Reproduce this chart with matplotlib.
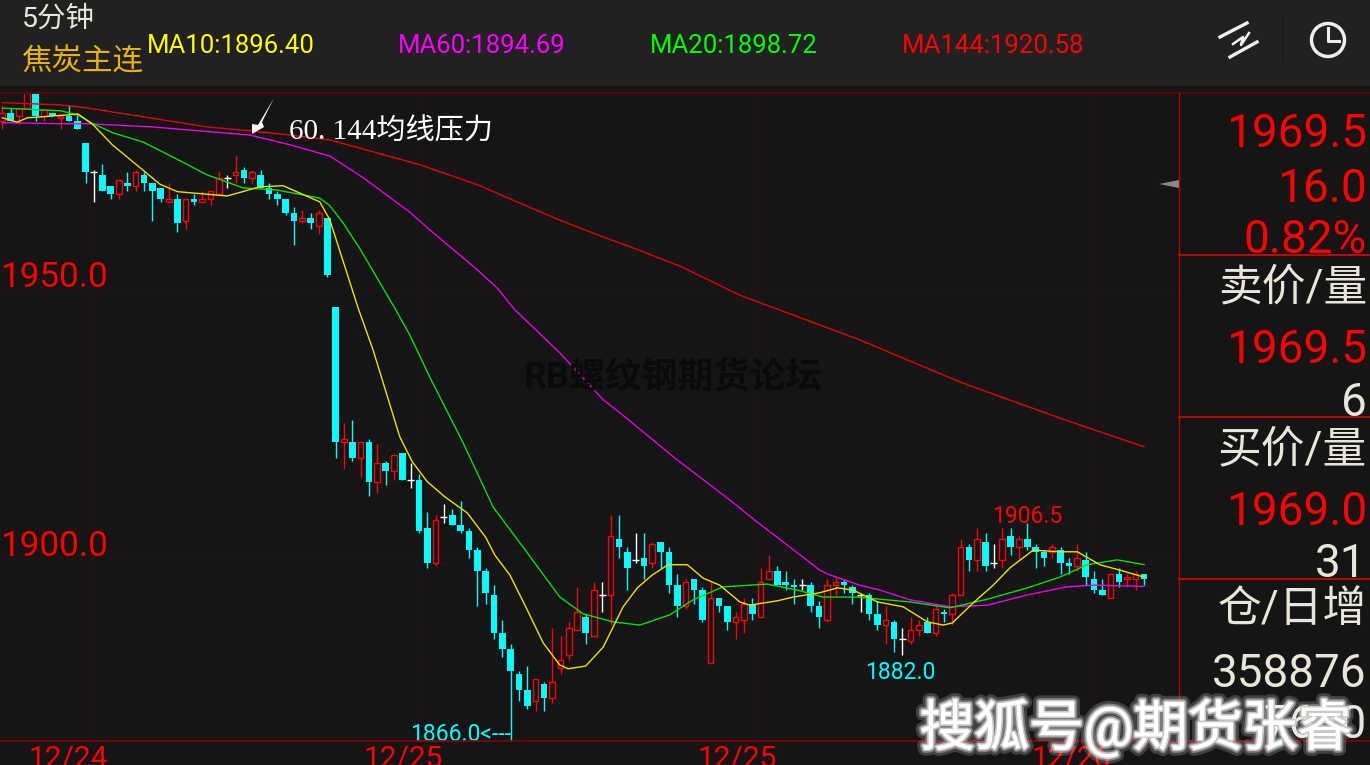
import matplotlib
matplotlib.use('Agg')
import matplotlib.pyplot as plt
import matplotlib.patheffects as pe
from matplotlib.patches import Circle, Polygon, Rectangle

plt.rcParams['font.family'] = ['Roboto', 'Noto Sans CJK SC', 'DejaVu Sans']

# candles (price ticks are 0.5)
opens = [1981, 1982.5, 1982, 1983.5, 1986.5, 1982, 1982.5, 1981.5, 1982, 1981,
         1977, 1971.5, 1971, 1969, 1967.5, 1969.5, 1969, 1971, 1969.5, 1968.5,
         1966, 1966.5, 1962.5, 1966.5, 1966, 1966.5, 1967.5, 1970.5, 1971, 1972,
         1970.5, 1971, 1968.5, 1967.5, 1966.5, 1964, 1962.5, 1963, 1961.5, 1963,
         1946.5, 1921.5, 1921.5, 1918.5, 1921.5, 1914, 1917.5, 1916, 1919.5, 1914.5,
         1914.5, 1905.5, 1899, 1907.5, 1908, 1906, 1905, 1901.5, 1897.5, 1893,
         1886, 1883, 1878.5, 1875.5, 1873.5, 1876.5, 1874, 1879.5, 1882, 1886.5,
         1889, 1885.5, 1893, 1893, 1903.5, 1901, 1899.5, 1900, 1899, 1903,
         1901, 1895, 1891, 1896, 1894, 1880.5, 1892.5, 1891, 1888, 1888.5,
         1891.5, 1889, 1896, 1897.5, 1895.5, 1895, 1895, 1895, 1891, 1888.5,
         1895, 1895.5, 1894.5, 1893, 1893, 1889.5, 1887.5, 1888, 1885, 1884.5,
         1886.5, 1888, 1886, 1890, 1889.5, 1893, 1902, 1899.5, 1903, 1899,
         1899.5, 1904, 1902, 1903.5, 1902, 1901, 1901, 1901.5, 1899, 1898.5,
         1899.5, 1896, 1894, 1892.5, 1897, 1896, 1896, 1897]
highs = [1984, 1983.5, 1983.5, 1986.5, 1986.5, 1983, 1982.5, 1982, 1984, 1982.5,
         1977, 1972, 1973, 1969, 1970, 1971.5, 1972, 1971.5, 1969.5, 1968.5,
         1969.5, 1967.5, 1966.5, 1967.5, 1968, 1968, 1971.5, 1971, 1974.5, 1972.5,
         1972, 1972, 1969.5, 1968, 1966.5, 1965, 1964.5, 1964, 1964.5, 1963,
         1946.5, 1925, 1925.5, 1921.5, 1922, 1921, 1918, 1919, 1919.5, 1917.5,
         1915.5, 1908.5, 1908, 1910, 1909, 1910.5, 1905.5, 1902, 1898, 1895,
         1888.5, 1884, 1879, 1880, 1877.5, 1877, 1887, 1885.5, 1888, 1894.5,
         1889.5, 1895.5, 1895.5, 1908, 1908, 1902, 1904.5, 1904.5, 1903, 1903,
         1902, 1897, 1896, 1896, 1894.5, 1895.5, 1892.5, 1891, 1890, 1892.5,
         1892.5, 1898, 1900.5, 1898.5, 1897.5, 1896, 1896, 1895.5, 1892, 1896,
         1896.5, 1896, 1895, 1893.5, 1893.5, 1892, 1891, 1888.5, 1887, 1889,
         1888.5, 1889, 1891.5, 1890.5, 1893.5, 1903.5, 1902.5, 1905.5, 1904.5, 1902.5,
         1905.5, 1905.5, 1904, 1906.5, 1902.5, 1901.5, 1902.5, 1902, 1900, 1902.5,
         1901, 1897.5, 1896, 1897, 1898, 1897, 1897.5, 1897]
lows = [1979.5, 1981, 1980.5, 1983.5, 1981, 1981, 1982, 1979.5, 1981, 1979.5,
        1969.5, 1966, 1968, 1966.5, 1966.5, 1968, 1968, 1968, 1962.5, 1966,
        1966, 1960.5, 1961, 1965.5, 1966, 1965.5, 1967.5, 1968.5, 1969.5, 1969.5,
        1969.5, 1968.5, 1966.5, 1965.5, 1963.5, 1958, 1962, 1961, 1960, 1952,
        1918.5, 1916.5, 1918, 1915, 1911.5, 1912, 1913.5, 1914.5, 1914.5, 1913,
        1904.5, 1898, 1898.5, 1906.5, 1906, 1904.5, 1900, 1891, 1891.5, 1885,
        1881.5, 1866, 1873.5, 1872, 1871.5, 1871.5, 1873, 1878.5, 1881, 1886.5,
        1884, 1885.5, 1890, 1887.5, 1900, 1894, 1899, 1896, 1898, 1898,
        1893.5, 1889, 1890.5, 1891.5, 1888, 1880.5, 1890, 1886.5, 1885, 1886,
        1888.5, 1889, 1896, 1895, 1894, 1891.5, 1894, 1890, 1887, 1888,
        1893, 1893.5, 1891.5, 1890, 1888.5, 1886.5, 1884, 1882.5, 1882, 1884,
        1885.5, 1886, 1885.5, 1888, 1887.5, 1893, 1897.5, 1897.5, 1897.5, 1898,
        1898, 1900.5, 1899.5, 1901.5, 1898, 1898.5, 1900, 1897, 1897, 1897.5,
        1895, 1893.5, 1893, 1892.5, 1894.5, 1894.5, 1894, 1895]
closes = [1982.5, 1981, 1983.5, 1986.5, 1982, 1983, 1982, 1982, 1981, 1979.5,
          1971.5, 1971.5, 1968, 1967.5, 1970, 1969, 1971.5, 1969.5, 1968, 1966.5,
          1966.5, 1962, 1966.5, 1966, 1966.5, 1968, 1970.5, 1970.5, 1971.5, 1970.5,
          1971.5, 1968.5, 1967.5, 1966.5, 1964, 1962.5, 1963, 1962, 1964, 1952.5,
          1921.5, 1922, 1918.5, 1921.5, 1914, 1917.5, 1916, 1919, 1914.5, 1914.5,
          1905, 1899, 1907, 1907.5, 1906, 1905, 1901.5, 1897.5, 1893.5, 1886,
          1883, 1879, 1875.5, 1872.5, 1877.5, 1874, 1877, 1881, 1887, 1890,
          1886, 1894, 1893, 1904, 1902, 1898, 1899.5, 1898.5, 1902.5, 1901,
          1895, 1891, 1895.5, 1894, 1888.5, 1892.5, 1891, 1888, 1889, 1891.5,
          1889.5, 1895.5, 1897.5, 1895, 1895, 1894.5, 1895, 1891, 1889, 1895,
          1895.5, 1895, 1893.5, 1893, 1889.5, 1887.5, 1888.5, 1885, 1885, 1886.5,
          1887.5, 1886, 1890.5, 1889.5, 1893, 1902, 1899.5, 1903.5, 1898.5, 1899,
          1903.5, 1902, 1903.5, 1902, 1901, 1900, 1902, 1899, 1898.5, 1900,
          1896.5, 1894, 1893, 1897, 1895.5, 1896.5, 1897, 1896]

# moving averages, sampled at the bends of each line
ma144_x = [0, 7, 10.3, 24.6, 29.7, 34.5, 39.3, 50.1, 57, 61.8, 66.6, 72.1, 75.3, 81.3, 88.5, 102.9, 114.9, 126.9, 137]
ma144_y = [1984.4, 1984.0, 1983.4, 1979.9, 1979.2, 1978.4, 1977.5, 1972.9, 1969.2, 1966, 1962.8, 1959.5, 1957.7,
           1954.1, 1948.7, 1940.4, 1932.6, 1925.9, 1920.58]
ma60_x = [0, 7, 10.3, 18, 29.7, 34.5, 39.3, 43.3, 48.9, 51, 57, 59.4, 61.5, 66.9, 72.1, 74.1, 80.7, 87.3,
          90.6, 98.1, 99, 102.9, 105.3, 108.9, 113.7, 118.2, 123, 127.8, 130.9, 137]
ma60_y = [1980.7, 1980.5, 1980.5, 1979.9, 1978.4, 1976.6, 1974.5, 1970.5, 1964.1, 1961.2, 1953.4, 1950, 1946,
          1938, 1929.3, 1926.9, 1918.5, 1910.7, 1906.6, 1897.7, 1897, 1894.9, 1894, 1892.2,
          1890.9, 1891.2, 1893.1, 1894.6, 1894.9, 1894.69]
ma20_x = [0, 7, 9.1, 10.9, 13.3, 16.9, 20.5, 24.6, 28.9, 33, 38.1, 39.3, 40.9, 43, 47.1, 48.9, 51.3,
          55.3, 58.9, 63, 66.9, 69.7, 73.3, 76.5, 80.1, 82.9, 86.5, 91.8, 95.4, 98.5, 102.6, 105.3,
          108.9, 113.7, 118.2, 123, 126.9, 130.2, 133.8, 137]
ma20_y = [1983.4, 1982.9, 1982.1, 1980.5, 1978.8, 1977.1, 1974.3, 1971, 1968.6, 1968.2, 1966.7,
          1965.3, 1962.1, 1957.1, 1946.3, 1941.3, 1933.5, 1921.3, 1909.4, 1900.9, 1892.7, 1889.6,
          1888.1, 1887.5, 1889.4, 1892.2, 1894.6, 1895.1, 1894, 1892.7, 1892.7, 1892.3, 1891.8,
          1890.7, 1892.3, 1894.4, 1896.4, 1898.7, 1899.6, 1898.72]
ma10_x = [0, 1.8, 3, 4.9, 9.1, 10.9, 13.2, 15.7, 18.9, 21, 27, 30.9, 33.7, 38.1, 39.3, 42.7, 44.5,
          47.7, 49.2, 51, 53.1, 55.8, 58, 59.1, 60.9, 63, 64.9, 66.9, 67.9, 70, 72.1, 74.5, 76.2, 78,
          79.9, 82.2, 84.1, 86.1, 88.5, 89.7, 93, 94.9, 98.1, 100.2, 102.1, 105, 108.1, 111, 112.9,
          114, 116.5, 118.9, 120.9, 123.7, 126.9, 129, 131.7, 134.1, 137]
ma10_y = [1981.6, 1980.8, 1981.6, 1981.8, 1982.3, 1980.3, 1976.6, 1973.4, 1969.3, 1967.9, 1967.1,
          1968.8, 1969, 1966, 1962.7, 1946.3, 1938.5, 1922.4, 1917.8, 1914.1, 1911.3, 1908.3,
          1903.8, 1900.5, 1896.8, 1890.3, 1884.2, 1880.1, 1879.4, 1879.9, 1883.4, 1890.9, 1894.4,
          1896.8, 1898.7, 1898.7, 1896.2, 1894.9, 1891.8, 1891.2, 1892, 1892.7, 1893.5, 1894.4, 1894,
          1891.8, 1890.9, 1888.1, 1887.5, 1887.9, 1891.6, 1894.9, 1898.1, 1901.4, 1901.1, 1901.1,
          1898.7, 1897.7, 1896.4]

price_ticks = [1950, 1900]
date_labels = ['12/24', '12/25', '12/25', '12/26']
date_lines = [10.47, 50.5, 90.5, 130.5]
ma_labels = ['MA10:1896.40', 'MA60:1894.69', 'MA20:1898.72', 'MA144:1920.58']

BG = '#151515'
HEAD = '#212121'
CREAM = '#e8e6d8'
RED = '#ff0000'
CYAN = '#00ffff'
W, H = 1370, 765

fig = plt.figure(figsize=(W / 100, H / 100), dpi=100, facecolor=BG)
ax = fig.add_axes([0, (H - 741) / H, 1179 / W, 648 / H], facecolor=BG)
ax.set_xlim(-0.276, 141.2)
ax.set_ylim(1866, 1986.2)
ax.axis('off')

for p in price_ticks:
    ax.axhline(p, color='#4a0c0c', lw=0.8, ls=(0, (1, 3)), zorder=1)
for d in date_lines:
    ax.axvline(d, color='#4a0c0c', lw=0.8, ls=(0, (1, 3)), zorder=1)

# candles
for i in range(len(opens)):
    o, h, l, c = opens[i], highs[i], lows[i], closes[i]
    if o == c:
        ax.vlines(i, l, h, color='white', lw=1, zorder=2)
        ax.hlines(c, i - 0.42, i + 0.42, color='white', lw=1, zorder=2)
    elif c > o:
        ax.vlines(i, l, h, color=RED, lw=1, zorder=2)
        ax.bar(i, c - o, bottom=o, width=0.68, facecolor=BG, edgecolor=RED, lw=1, zorder=3)
    else:
        ax.vlines(i, l, h, color=CYAN, lw=1, zorder=2)
        ax.bar(i, o - c, bottom=c, width=0.78, color=CYAN, lw=0, zorder=3)

ax.plot(ma144_x, ma144_y, color='#e40000', lw=1, zorder=4)
ax.plot(ma60_x, ma60_y, color='#e800e8', lw=1, zorder=4)
ax.plot(ma20_x, ma20_y, color='#00e000', lw=1, zorder=4)
ax.plot(ma10_x, ma10_y, color='#f0e000', lw=1, zorder=5)

ax.text(-0.276, price_ticks[0] + 2, '1950.0', color=RED, fontsize=25.2, ha='left', va='center', zorder=6)
ax.text(-0.276, price_ticks[1] + 2, '1900.0', color=RED, fontsize=25.2, ha='left', va='center', zorder=6)
ax.text(123, 1906.5 - 0.9, '1906.5', color=RED, fontsize=16.5, ha='center', va='bottom', zorder=6)
ax.text(107.8, 1882 - 1.2, '1882.0', color=CYAN, fontsize=16.5, ha='center', va='top', zorder=6)
ax.text(61, 1866 - 0.9, '1866.0<---', color=CYAN, fontsize=16.5, ha='right', va='bottom', zorder=6)

# everything around the plot, in pixel coordinates
ov = fig.add_axes([0, 0, 1, 1], facecolor='none')
ov.set_xlim(0, W)
ov.set_ylim(H, 0)
ov.axis('off')

ov.add_patch(Rectangle((0, 0), W, 86, color=HEAD, lw=0))
ov.plot([0, W], [93, 93], color='#5c0505', lw=1.4)
ov.plot([0, 1370], [741, 741], color='#8a0000', lw=1.2)
ov.plot([1179, 1179], [93, 741], color='#a80808', lw=1)
for y in [255, 417, 579]:
    ov.plot([1179, W], [y, y], color='#e00000', lw=1.2)

ov.text(22, 19, '5分钟', color=CREAM, fontsize=20.5, va='center')
ov.text(21, 62, '焦炭主连', color='#e8b010', fontsize=22, va='center')
ma_pos = [147, 398, 650, 902]
ma_cols = ['#ffff00', '#ff00ff', '#00ff00', RED]
for lab, x, col in zip(ma_labels, ma_pos, ma_cols):
    ov.text(x, 46, lab, color=col, fontsize=18.5, va='center')

# chart style icon and clock
ov.plot([1220, 1247], [37, 23], color='#f0f0f0', lw=2.4)
ov.plot([1230, 1257], [57, 42], color='#f0f0f0', lw=2.4)
ov.plot([1233, 1243, 1241, 1249], [44, 37, 45, 33], color='#f0f0f0', lw=1.8)
ov.plot([1283, 1283], [17, 62], color='#1a1a1a', lw=1.2)
ov.add_patch(Circle((1328, 40), 16.5, fill=False, ec='#eeeeea', lw=2.5))
ov.plot([1328, 1328, 1339], [28, 41, 41], color='#eeeeea', lw=2.2)

ov.add_patch(Polygon([(1159, 184), (1179, 180), (1179, 188)], color='#888888', lw=0))
ov.add_patch(Polygon([(274, 98), (262, 122), (264, 127), (252, 134), (252, 124), (258, 125)],
                     color='white', lw=0))
ov.text(289, 132, '60. 144均线压力', color='white', fontsize=21, va='center',
        family=['Liberation Serif', 'Noto Sans CJK SC'])
ov.text(524, 377, 'RB螺纹钢期货论坛', color='#0a0a0a', fontsize=26, va='center', fontweight='bold')

# right panel
rx = 1367
panel_red = [(134, '1969.5'), (189, '16.0'), (240, '0.82%'), (350, '1969.5'), (512, '1969.0')]
panel_cream = [(403, '6'), (564, '31'), (674, '358876'), (725, '7630')]
panel_head = [(288, '卖价/量'), (450, '买价/量'), (610, '仓/日增')]
for y, s in panel_red:
    ov.text(rx, y, s, color=RED, fontsize=33, ha='right', va='center')
for y, s in panel_cream:
    ov.text(rx, y, s, color=CREAM, fontsize=33, ha='right', va='center')
for y, s in panel_head:
    ov.text(rx, y, s, color=CREAM, fontsize=31.5, ha='right', va='center')

# dates sit on the bottom edge and get cut off
date_x = [68, 403, 737, 1071]
for x, s in zip(date_x, date_labels):
    ov.text(x, 745, s, color=RED, fontsize=21.5, ha='center', va='top', clip_on=True)

ov.text(1136, 728, '搜狐号@期货张睿', color='white', fontsize=39.4, ha='center', va='center', zorder=10,
        path_effects=[pe.withStroke(linewidth=9, foreground='#ffffff30'),
                      pe.withStroke(linewidth=5, foreground='#ffffff50'),
                      pe.withStroke(linewidth=2.5, foreground='#c8c8c8'),
                      pe.Normal()])

fig.savefig('out.png', dpi=100, facecolor=fig.get_facecolor())
